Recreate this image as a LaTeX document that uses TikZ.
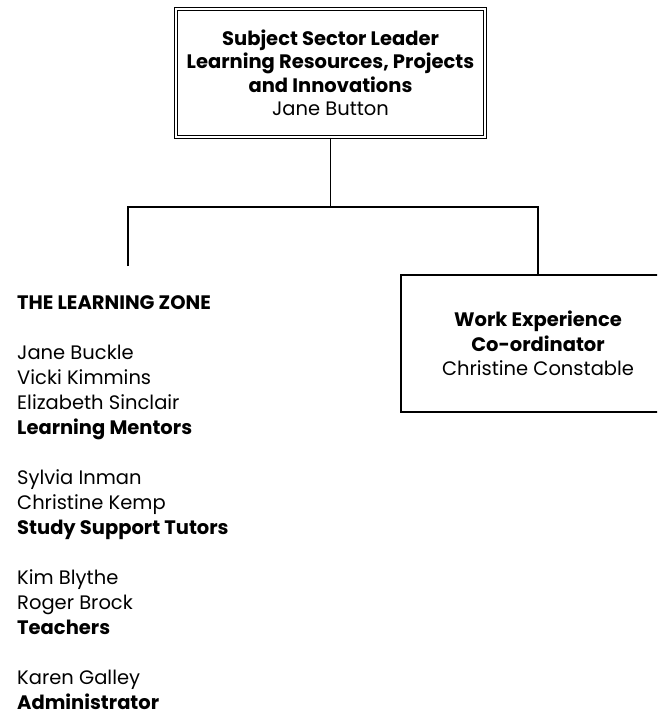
\documentclass[tikz,border=0pt]{standalone}
\usepackage{fontspec}
\setmainfont{Poppins}
\tikzset{
  leaderbox/.style={draw, double, line width=1.2pt, double distance=2.4pt,
    align=center, inner sep=0pt, minimum width=309pt, minimum height=128pt,
    font=\fontsize{19.5}{23.5}\selectfont},
  postbox/.style={draw, line width=1.6pt, align=center, inner sep=0pt,
    minimum width=274pt, minimum height=137pt,
    font=\fontsize{19.5}{24.5}\selectfont},
  zonelist/.style={align=left, inner sep=0pt, anchor=north west,
    font=\fontsize{19.5}{25}\selectfont},
  wire/.style={line width=1.6pt}
}

\begin{document}
\begin{tikzpicture}[x=1pt, y=-1pt]

    \clip (0,0) rectangle (657,723);

    % boxes
    \node [leaderbox] (leader) at (330.5,73)
        {\textbf{Subject Sector Leader}\\
         \textbf{Learning Resources, Projects}\\
         \textbf{and Innovations}\\
         Jane Button};
    \node [postbox] (workexp) at (538,343.5)
        {\textbf{Work Experience}\\
         \textbf{Co-ordinator}\\
         Christine Constable};

    % learning zone list
    \node [zonelist] (zone) at (17,295)
        {\textbf{THE LEARNING ZONE}\\[25pt]
         Jane Buckle\\
         Vicki Kimmins\\
         Elizabeth Sinclair\\
         \textbf{Learning Mentors}\\[25pt]
         Sylvia Inman\\
         Christine Kemp\\
         \textbf{Study Support Tutors}\\[25pt]
         Kim Blythe\\
         Roger Brock\\
         \textbf{Teachers}\\[25pt]
         Karen Galley\\
         \textbf{Administrator}};

    \coordinate (zonetop) at (128,266);
    \coordinate (fork) at (leader.south |- 0,207);

    \draw [wire] (leader.south) -- (fork);
    \draw [wire] (zonetop) |- (fork) -| (workexp.north);
\end{tikzpicture}
\end{document}
